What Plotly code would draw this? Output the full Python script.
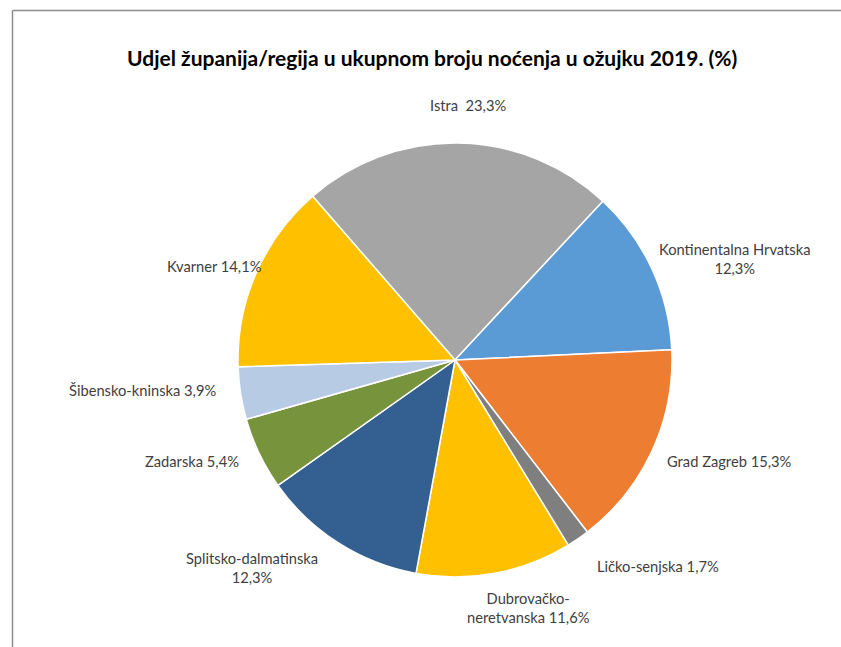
import plotly.graph_objects as go

# data
regions = ["Istra", "Kontinentalna Hrvatska", "Grad Zagreb", "Ličko-senjska",
           "Dubrovačko-neretvanska", "Splitsko-dalmatinska", "Zadarska",
           "Šibensko-kninska", "Kvarner"]
shares = [23.3, 12.3, 15.3, 1.7, 11.6, 12.3, 5.4, 3.9, 14.1]
colors = ["#A5A5A5", "#5B9BD5", "#ED7D31", "#7F7F7F", "#FFC000",
          "#335F91", "#77933C", "#B7CCE4", "#FFC000"]

W, H = 841, 647


def px(x, y):
    return x / W, 1 - y / H


def fmt(v):
    return f"{v:.1f}%".replace(".", ",")


# label text (with Excel-like line breaks)
label_text = [
    "Istra\u00a0 " + fmt(shares[0]),
    "Kontinentalna Hrvatska<br>" + fmt(shares[1]),
    "Grad Zagreb " + fmt(shares[2]),
    "Ličko-senjska " + fmt(shares[3]),
    "Dubrovačko-<br>neretvanska " + fmt(shares[4]),
    "Splitsko-dalmatinska<br>" + fmt(shares[5]),
    "Zadarska " + fmt(shares[6]),
    "Šibensko-kninska " + fmt(shares[7]),
    "Kvarner\u00a0" + fmt(shares[8]),
]
# label centres in pixels
label_pos = [(468, 105), (734, 258), (729, 461), (658, 566), (528, 607),
             (252, 567), (192, 461), (142, 390), (214, 266)]

cx, cy, r = 455, 360, 217

fig = go.Figure()
fig.add_trace(
    go.Pie(
        labels=regions,
        values=shares,
        sort=False,
        direction="clockwise",
        rotation=-41,
        marker=dict(colors=colors, line=dict(color="white", width=1.5)),
        textinfo="none",
        hoverinfo="label+percent",
        domain=dict(x=[(cx - r) / W, (cx + r) / W],
                    y=[1 - (cy + r) / H, 1 - (cy - r) / H]),
        showlegend=False,
    )
)

annotations = []
for txt, (x, y) in zip(label_text, label_pos):
    ax, ay = px(x, y)
    annotations.append(dict(
        text=txt, x=ax, y=ay, xref="paper", yref="paper",
        xanchor="center", yanchor="middle", showarrow=False, align="center",
        font=dict(family="Lato", size=14.7, color="#404040"),
    ))

tx, ty = px(432, 58)
annotations.append(dict(
    text="<b>Udjel županija/regija u ukupnom broju noćenja u ožujku 2019. (%)</b>",
    x=tx, y=ty, xref="paper", yref="paper", xanchor="center", yanchor="middle",
    showarrow=False, font=dict(family="Lato", size=21, color="#000000"),
))

fig.update_layout(
    width=W, height=H,
    margin=dict(l=0, r=0, t=0, b=0),
    paper_bgcolor="white",
    plot_bgcolor="white",
    annotations=annotations,
    shapes=[
        dict(type="line", xref="paper", yref="paper",
             x0=12.5 / W, y0=1 - 10.5 / H, x1=1, y1=1 - 10.5 / H,
             line=dict(color="#8C8C8C", width=1.5)),
        dict(type="line", xref="paper", yref="paper",
             x0=12.5 / W, y0=1 - 10.5 / H, x1=12.5 / W, y1=0,
             line=dict(color="#8C8C8C", width=1.5)),
    ],
)

# drop the default page margin so the figure sits at the window origin
fig.write_html("out.html",
               config={"displayModeBar": False},
               post_script="document.body.style.margin='0';")
